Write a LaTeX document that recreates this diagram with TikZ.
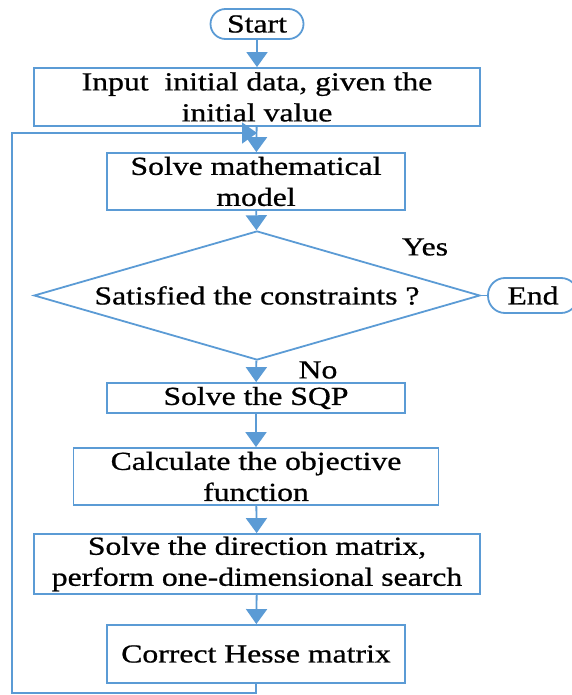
\documentclass[tikz,border=0pt]{standalone}
\usepackage{fontspec}
\setmainfont{Liberation Serif}[FakeStretch=1.22,FakeBold=0.8,Ligatures=NoCommon]
\usetikzlibrary{arrows.meta,shapes.geometric}
\definecolor{flowblue}{RGB}{91,155,213}
\begin{document}
\begin{tikzpicture}[x=1pt,y=-1pt,
        font=\fontsize{26}{31}\selectfont,
        box/.style={draw=flowblue,line width=1.8pt,align=center,inner sep=0pt},
        term/.style={box,rounded corners=15pt},
        flow/.style={draw=flowblue,line width=1.8pt,-{Triangle[width=21pt,length=15pt]}},
        link/.style={draw=flowblue,line width=1.8pt}]
        \path[use as bounding box] (0,0) rectangle (571,695);
        % main column
        \node[term,minimum width=93pt,minimum height=30pt] (start) at (257,24) {Start};
        \node[box,minimum width=446pt,minimum height=58pt] (input) at (257,97) {Input~ initial data, given the\\initial value};
        \node[box,minimum width=298pt,minimum height=57pt] (model) at (256,181.5) {Solve mathematical\\model};
        \node[box,shape=diamond,aspect=3.46,minimum width=446pt,minimum height=129pt] (check) at (257,295.5) {Satisfied the constraints ?};
        \node[term,rounded corners=17pt,minimum width=90pt,minimum height=35pt] (end) at (533,295.5) {End};
        \node[box,minimum width=298pt,minimum height=30pt] (sqp) at (256,398) {Solve the SQP};
        \node[box,minimum width=365pt,minimum height=57pt] (calc) at (256,476.5) {Calculate the objective\\function};
        \node[box,minimum width=446pt,minimum height=60pt] (dir) at (257,564) {Solve the direction matrix,\\perform one-dimensional search};
        \node[box,minimum width=298pt,minimum height=58pt] (hesse) at (256,654) {Correct Hesse matrix};
        % branch labels
        \node (yes) at (425,247) {Yes};
        \node (no) at (318,370) {No};
        % connectors
        \coordinate (merge) at (257,133);
        \coordinate (loopb) at (12,693);
        \draw[flow] (start) -- (input);
        \draw[flow] (input) -- (model);
        \draw[flow] (model) -- (check);
        \draw[link] (check) -- (end);
        \draw[flow] (check) -- (sqp);
        \draw[flow] (sqp) -- (calc);
        \draw[flow] (calc) -- (dir);
        \draw[flow] (dir) -- (hesse);
        \draw[flow] (hesse.south) |- (loopb) |- (merge);
    \end{tikzpicture}
\end{document}
